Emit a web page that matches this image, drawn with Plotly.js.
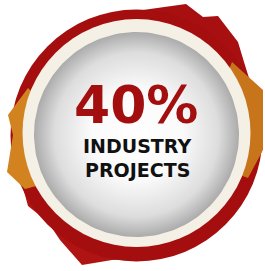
<!DOCTYPE html>
<html>
<head>
<meta charset="utf-8">
<script src="https://cdn.plot.ly/plotly-3.0.1.min.js"></script>
<style>html,body{margin:0;padding:0;background:#fff;}#chart{width:265px;height:271px;}</style>
</head>
<body>
<div id="chart"></div>
<script>
// ---- content ----
var percentValue = [40];
var labelLines = ['INDUSTRY', 'PROJECTS'];

// ---- geometry of the badge (pixels) ----
var cx = 136.5, cy = 134.5;
var rRing = 126, rCream = 114, rSphere = 102.5;

function circlePts(r, n) {
  var xs = [], ys = [];
  for (var i = 0; i <= n; i++) {
    var a = 2 * Math.PI * i / n;
    xs.push(cx + r * Math.cos(a));
    ys.push(cy + r * Math.sin(a));
  }
  return {x: xs, y: ys};
}
function poly(pts) {
  return 'M' + pts.map(function (p) { return p[0] + ',' + p[1]; }).join('L') + 'Z';
}
function circ(r, dy, color) {
  return {type: 'circle', layer: 'below', xref: 'x', yref: 'y',
    x0: cx - r, x1: cx + r, y0: cy + dy - r, y1: cy + dy + r,
    fillcolor: color, line: {width: 0}};
}

var redTop = [[118,14],[150,9],[186,4],[203,17],[218,16],[238,42],[244,62],[249,78],[238,100],[140,40]];
var redBottom = [[22,184],[28,206],[48,222],[60,240],[82,265],[112,260],[136,259],[120,240],[40,190]];
var orangeLeft = [[28,88],[8,115],[13,135],[7,172],[25,189],[40,185],[30,135],[35,95]];
var orangeRight = [[232,62],[263,90],[263,150],[248,178],[240,175],[240,120],[228,72]];

var shapes = [
  {type: 'path', layer: 'below', path: poly(redTop), fillcolor: '#a70f10', line: {width: 0}},
  {type: 'path', layer: 'below', path: poly(redBottom), fillcolor: '#b01412', line: {width: 0}},
  circ(rRing, 1, '#a50e0e'),
  {type: 'path', layer: 'below', path: poly(orangeLeft), fillcolor: '#d2821e', line: {width: 0}},
  {type: 'path', layer: 'below', path: poly(orangeRight), fillcolor: '#c8741a', line: {width: 0}},
  circ(rCream, -1.5, '#f4f0e6')
];

var sp = circlePts(rSphere, 180);
var sphere = {
  type: 'scatter', mode: 'lines', x: sp.x, y: sp.y, fill: 'toself',
  line: {width: 0, color: 'rgba(0,0,0,0)'},
  fillcolor: '#eeeeee',
  fillgradient: {type: 'radial', colorscale: [[0,'#ffffff'],[0.45,'#fafafa'],[0.8,'#dddddd'],[1,'#ababab']]},
  hoverinfo: 'skip', showlegend: false
};

var annotations = [
  {x: cx - 1, y: 105, xref: 'x', yref: 'y', text: percentValue[0] + '%', showarrow: false,
   font: {family: 'DejaVu Sans', size: 52, color: '#a30f0f', weight: 'bold'}},
  {x: cx + 0.5, y: 146, xref: 'x', yref: 'y', text: labelLines[0], showarrow: false,
   font: {family: 'DejaVu Sans', size: 19, color: '#111111', weight: 'bold'}},
  {x: cx + 0.5, y: 170, xref: 'x', yref: 'y', text: labelLines[1], showarrow: false,
   font: {family: 'DejaVu Sans', size: 19, color: '#111111', weight: 'bold'}}
];

var layout = {
  width: 265, height: 271,
  margin: {l: 0, r: 0, t: 0, b: 0, pad: 0},
  paper_bgcolor: '#ffffff', plot_bgcolor: '#ffffff',
  xaxis: {range: [0, 265], visible: false, fixedrange: true},
  yaxis: {range: [271, 0], visible: false, fixedrange: true},
  shapes: shapes,
  annotations: annotations,
  showlegend: false
};

Plotly.newPlot('chart', [sphere], layout, {displayModeBar: false, staticPlot: true});
</script>
</body>
</html>
